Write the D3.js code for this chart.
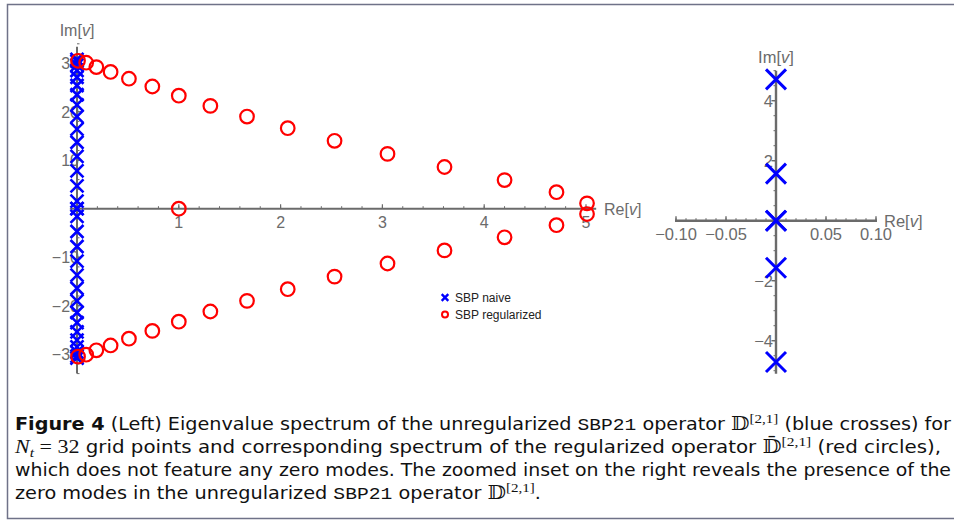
<!DOCTYPE html>
<html>
<head>
<meta charset="utf-8" />
<title>SBP21 spectrum</title>
<style>
  body { margin: 0; background: #fff; }
  svg text { font-family: "Liberation Sans", Arial, sans-serif; }
</style>
</head>
<body>
<div id="chart"></div>
<script src="https://d3js.org/d3.v7.min.js"></script>
<script>
// naive SBP21 eigenvalues: purely imaginary (Re = 0), two zero modes
const naiveIm = [30.8, 30.4, 29.6, 28.5, 27.1, 25.4, 23.5, 21.4, 19.0, 16.4, 13.7, 10.8, 7.8, 4.71, 1.57,
                 0, 0,
                 -1.57, -4.71, -7.8, -10.8, -13.7, -16.4, -19.0, -21.4, -23.5, -25.4, -27.1, -28.5, -29.6, -30.4, -30.8];

// regularized eigenvalues
const regRe = [0.01, 0.09, 0.19, 0.33, 0.51, 0.74, 1.00, 1.31, 1.67, 2.07, 2.53, 3.05, 3.61, 4.20, 4.71, 5.01,
               1.00,
               5.01, 4.71, 4.20, 3.61, 3.05, 2.53, 2.07, 1.67, 1.31, 1.00, 0.74, 0.51, 0.33, 0.19, 0.09, 0.01];
const regIm = [30.5, 30.1, 29.2, 28.2, 26.8, 25.2, 23.3, 21.2, 19.0, 16.6, 14.0, 11.3, 8.6, 5.9, 3.4, 1.1,
               0,
               -1.1, -3.4, -5.9, -8.6, -11.3, -14.0, -16.6, -19.0, -21.2, -23.3, -25.2, -26.8, -28.2, -29.2, -30.1, -30.5];

const mainReTicks = [1, 2, 3, 4, 5];
const mainImTicks = [-30, -20, -10, 10, 20, 30];
const insetReTicks = [-0.10, -0.05, 0.05, 0.10];
const insetImTicks = [-4, -2, 2, 4];
const legendLabels = ["SBP naive", "SBP regularized"];

const W = 954, H = 525;
const axisCol = "#6b6b6b";
const blue = "#0000ff", red = "#ff0000";

const svg = d3.select("#chart").append("svg")
  .attr("width", W).attr("height", H);

// figure frame
svg.append("path")
  .attr("d", `M${W},4.5 H7.5 V518.5 H${W}`)
  .attr("fill", "none").attr("stroke", "#6f7288").attr("stroke-width", 1.5);

// ---------- main plot ----------
const x = d3.scaleLinear().domain([0, 5]).range([77, 586]);
const y = d3.scaleLinear().domain([-30, 30]).range([354.2, 63.2]);

const main = svg.append("g");

// minor ticks
main.selectAll("line.rminor").data(d3.range(0.2, 5.01, 0.2))
  .join("line")
  .attr("x1", d => x(d)).attr("x2", d => x(d))
  .attr("y1", y(0)).attr("y2", y(0) - 2.5)
  .attr("stroke", axisCol).attr("stroke-width", 1);
main.selectAll("line.iminor").data(d3.range(-34, 34.1, 2))
  .join("line")
  .attr("x1", x(0)).attr("x2", x(0) + 2.5)
  .attr("y1", d => y(d)).attr("y2", d => y(d))
  .attr("stroke", axisCol).attr("stroke-width", 1);

// axes
main.append("line")
  .attr("x1", x(-0.07)).attr("x2", x(5.1)).attr("y1", y(0)).attr("y2", y(0))
  .attr("stroke", axisCol).attr("stroke-width", 2);
main.append("line")
  .attr("x1", x(0)).attr("x2", x(0)).attr("y1", y(33.4)).attr("y2", y(-34))
  .attr("stroke", axisCol).attr("stroke-width", 2);

// major ticks + labels
main.selectAll("line.rmaj").data(mainReTicks).join("line")
  .attr("x1", d => x(d)).attr("x2", d => x(d))
  .attr("y1", y(0)).attr("y2", y(0) - 4.5)
  .attr("stroke", axisCol).attr("stroke-width", 1.2);
main.selectAll("text.rlab").data(mainReTicks).join("text")
  .attr("x", d => x(d)).attr("y", y(0) + 19)
  .attr("text-anchor", "middle").attr("font-size", 16).attr("fill", axisCol)
  .text(d => d);
main.selectAll("line.imaj").data(mainImTicks).join("line")
  .attr("x1", x(0)).attr("x2", x(0) + 4.5)
  .attr("y1", d => y(d)).attr("y2", d => y(d))
  .attr("stroke", axisCol).attr("stroke-width", 1.2);
main.selectAll("text.ilab").data(mainImTicks).join("text")
  .attr("x", x(0) + 2).attr("y", d => y(d) + 6)
  .attr("text-anchor", "end").attr("font-size", 16).attr("fill", axisCol)
  .text(d => d < 0 ? "\u2212" + Math.abs(d) : d);

// axis titles
function axisTitle(g, px, py, name, anchor, size) {
  const t = g.append("text").attr("x", px).attr("y", py)
    .attr("text-anchor", anchor).attr("font-size", size).attr("fill", axisCol);
  t.append("tspan").text(name + "[");
  t.append("tspan").attr("font-style", "italic").text("v");
  t.append("tspan").text("]");
}
axisTitle(main, x(0), 36, "Im", "middle", 16);
axisTitle(main, 604, y(0) + 6, "Re", "start", 16);

// naive crosses
function cross(g, cx, cy, s, sw) {
  g.append("path")
    .attr("d", `M${cx - s},${cy - s}L${cx + s},${cy + s}M${cx - s},${cy + s}L${cx + s},${cy - s}`)
    .attr("stroke", blue).attr("stroke-width", sw).attr("fill", "none");
}
const crossG = main.append("g");
naiveIm.forEach(v => cross(crossG, x(0), y(v), 6.5, 2.6));

// regularized circles
main.append("g").selectAll("circle").data(regRe.map((r, i) => [r, regIm[i]]))
  .join("circle")
  .attr("cx", d => x(d[0])).attr("cy", d => y(d[1])).attr("r", 6.8)
  .attr("fill", "none").attr("stroke", red).attr("stroke-width", 2.2);

// legend
const leg = main.append("g");
cross(leg, 445, 297.5, 3.3, 2.4);
leg.append("circle").attr("cx", 445).attr("cy", 314.5).attr("r", 3)
  .attr("fill", "none").attr("stroke", red).attr("stroke-width", 2);
leg.selectAll("text").data(legendLabels).join("text")
  .attr("x", 455).attr("y", (d, i) => 301.5 + i * 17)
  .attr("font-size", 12).attr("fill", "#222")
  .text(d => d);

// ---------- inset ----------
const xi = d3.scaleLinear().domain([-0.1, 0.1]).range([676, 876]);
const yi = d3.scaleLinear().domain([-4, 4]).range([340.7, 100.7]);
const inset = svg.append("g");

inset.selectAll("line.rminor").data(d3.range(-0.10, 0.1001, 0.01))
  .join("line")
  .attr("x1", d => xi(d)).attr("x2", d => xi(d))
  .attr("y1", yi(0)).attr("y2", yi(0) - 2.5)
  .attr("stroke", axisCol).attr("stroke-width", 1);
inset.selectAll("line.iminor").data(d3.range(-5, 5.01, 0.5))
  .join("line")
  .attr("x1", xi(0)).attr("x2", xi(0) - 2.5)
  .attr("y1", d => yi(d)).attr("y2", d => yi(d))
  .attr("stroke", axisCol).attr("stroke-width", 1);

inset.append("line")
  .attr("x1", xi(-0.101)).attr("x2", xi(0.101)).attr("y1", yi(0)).attr("y2", yi(0))
  .attr("stroke", axisCol).attr("stroke-width", 2.4);
inset.append("line")
  .attr("x1", xi(0)).attr("x2", xi(0)).attr("y1", yi(5.0)).attr("y2", yi(-5.1))
  .attr("stroke", axisCol).attr("stroke-width", 2.4);

inset.selectAll("line.rmaj").data(insetReTicks).join("line")
  .attr("x1", d => xi(d)).attr("x2", d => xi(d))
  .attr("y1", yi(0)).attr("y2", yi(0) - 4.5)
  .attr("stroke", axisCol).attr("stroke-width", 1.4);
inset.selectAll("text.rlab").data(insetReTicks).join("text")
  .attr("x", d => xi(d)).attr("y", yi(0) + 19)
  .attr("text-anchor", "middle").attr("font-size", 16.5).attr("fill", axisCol)
  .text(d => (d < 0 ? "\u2212" : "") + Math.abs(d).toFixed(2));
inset.selectAll("line.imaj").data(insetImTicks).join("line")
  .attr("x1", xi(0)).attr("x2", xi(0) - 4.5)
  .attr("y1", d => yi(d)).attr("y2", d => yi(d))
  .attr("stroke", axisCol).attr("stroke-width", 1.4);
inset.selectAll("text.ilab").data(insetImTicks).join("text")
  .attr("x", xi(0) - 3).attr("y", d => yi(d) + 6)
  .attr("text-anchor", "end").attr("font-size", 16.5).attr("fill", axisCol)
  .text(d => d < 0 ? "\u2212" + Math.abs(d) : d);

axisTitle(inset, xi(0), 63, "Im", "middle", 16.5);
axisTitle(inset, 884, yi(0) + 6, "Re", "start", 16.5);

const insetCross = inset.append("g");
naiveIm.filter(v => Math.abs(v) < 5).forEach(v => cross(insetCross, xi(0), yi(v), 10, 3));

// ---------- caption ----------
const cap = svg.append("g").attr("font-size", 18.5).attr("fill", "#111");
const capFont = '"Liberation Sans Narrow", "DejaVu Sans Condensed", "Liberation Sans", sans-serif';
const mono = '"Liberation Mono", "DejaVu Sans Mono", monospace';
const mathFont = '"Liberation Serif", "DejaVu Serif", serif';
const dbl = "\uD835\uDD3B";

function capLine(yy, len, parts) {
  const t = cap.append("text").attr("x", 15).attr("y", yy)
    .attr("textLength", len).attr("lengthAdjust", "spacingAndGlyphs")
    .style("font-family", capFont);
  parts.forEach(p => {
    const s = t.append("tspan").text(p.t);
    if (p.b) s.attr("font-weight", "bold");
    if (p.m) s.style("font-family", mono).attr("font-size", 17);
    if (p.f) s.style("font-family", mathFont);
    if (p.i) s.attr("font-style", "italic");
    if (p.dy) s.attr("dy", p.dy);
    if (p.fs) s.attr("font-size", p.fs);
  });
}

capLine(430, 936, [
  {t: "Figure 4", b: true},
  {t: " (Left) Eigenvalue spectrum of the unregularized "},
  {t: "SBP21", m: true},
  {t: " operator "},
  {t: dbl, f: true},
  {t: "[2,1]", f: true, fs: 13, dy: -7},
  {t: " (blue crosses) for", dy: 7}
]);
capLine(453, 926, [
  {t: "N", f: true, i: true},
  {t: "t", f: true, i: true, fs: 13, dy: 4},
  {t: " = 32", f: true, dy: -4},
  {t: " grid points and corresponding spectrum of the regularized operator "},
  {t: dbl + "\u0304", f: true},
  {t: "[2,1]", f: true, fs: 13, dy: -7},
  {t: " (red circles),", dy: 7}
]);
capLine(476, 936, [
  {t: "which does not feature any zero modes. The zoomed inset on the right reveals the presence of the"}
]);
capLine(499, 526, [
  {t: "zero modes in the unregularized "},
  {t: "SBP21", m: true},
  {t: " operator "},
  {t: dbl, f: true},
  {t: "[2,1]", f: true, fs: 13, dy: -7},
  {t: ".", dy: 7}
]);
</script>
</body>
</html>
